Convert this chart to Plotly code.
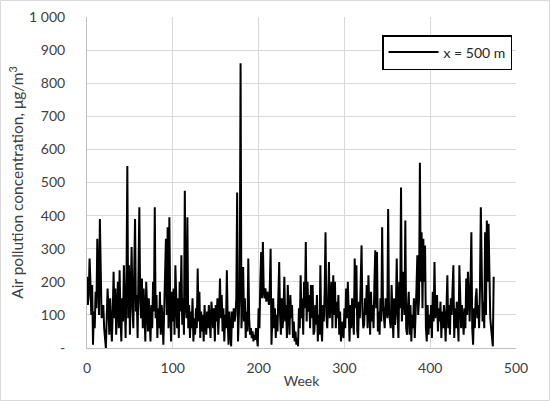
import plotly.graph_objects as go

# Weekly air pollution concentration (µg/m³) at x = 500 m
conc_000_049 = [215, 130, 160, 270, 200, 100, 190, 10, 110, 60, 170, 120, 330, 220, 100, 390, 180, 90, 110, 130, 60, 20, 0, 90, 180,
                120, 40, 150, 70, 20, 110, 230, 90, 180, 40, 130, 200, 60, 235, 100, 20, 150, 80, 250, 160, 30, 200, 550, 90, 250]
conc_050_099 = [40, 180, 305, 120, 60, 230, 390, 110, 160, 30, 200, 425, 140, 90, 210, 60, 180, 120, 20, 200, 100, 50, 150, 90, 20,
                130, 60, 200, 110, 425, 90, 160, 30, 120, 60, 170, 40, 130, 90, 10, 150, 260, 330, 100, 365, 60, 395, 120, 20, 170]
conc_100_149 = [80, 180, 40, 250, 120, 60, 150, 30, 200, 110, 280, 70, 150, 40, 475, 130, 90, 395, 60, 130, 30, 110, 60, 150, 20,
                90, 40, 120, 60, 240, 80, 170, 30, 110, 50, 100, 20, 130, 70, 40, 110, 60, 130, 90, 30, 140, 100, 60, 120, 20]
conc_150_199 = [130, 80, 150, 40, 110, 210, 90, 160, 50, 120, 20, 100, 60, 235, 80, 10, 110, 60, 5, 110, 60, 120, 80, 100, 150,
                470, 20, 100, 180, 860, 60, 120, 245, 80, 150, 30, 110, 50, 270, 90, 40, 60, 30, 50, 20, 40, 25, 60, 30, 5]
conc_200_249 = [120, 60, 200, 290, 150, 320, 170, 150, 180, 140, 170, 160, 130, 180, 300, 10, 90, 150, 60, 120, 30, 100, 50, 130, 260,
                100, 40, 150, 60, 110, 215, 80, 130, 30, 190, 100, 40, 160, 90, 130, 30, 80, 20, 50, 10, 30, 5, 120, 60, 220]
conc_250_299 = [90, 150, 40, 200, 120, 320, 80, 200, 110, 160, 60, 190, 90, 190, 40, 50, 130, 70, 160, 20, 100, 40, 250, 60, 20,
                130, 80, 170, 350, 100, 60, 130, 260, 90, 150, 200, 60, 220, 100, 200, 60, 140, 90, 160, 40, 110, 20, 80, 50, 30]
conc_300_349 = [120, 60, 180, 90, 200, 100, 20, 130, 60, 150, 90, 40, 270, 120, 250, 50, 30, 140, 90, 180, 310, 110, 60, 70, 150,
                100, 190, 60, 220, 120, 40, 170, 80, 130, 60, 200, 295, 120, 290, 50, 110, 40, 150, 80, 365, 130, 100, 60, 150, 130]
conc_350_399 = [90, 420, 110, 90, 60, 190, 100, 30, 150, 70, 120, 270, 100, 30, 200, 120, 485, 80, 160, 230, 100, 385, 60, 40, 120,
                170, 40, 130, 20, 100, 60, 150, 30, 90, 180, 280, 100, 150, 560, 200, 350, 120, 330, 200, 310, 60, 20, 130, 40, 100]
conc_400_449 = [60, 130, 30, 170, 80, 260, 90, 130, 160, 50, 120, 80, 140, 30, 110, 60, 130, 90, 20, 120, 220, 60, 130, 40, 150,
                100, 170, 250, 30, 120, 60, 140, 90, 20, 250, 110, 60, 130, 90, 40, 120, 60, 210, 100, 230, 150, 80, 200, 350, 60]
conc_450_474 = [10, 120, 60, 150, 180, 90, 130, 60, 180, 425, 120, 80, 140, 60, 350, 100, 385, 200, 375, 130, 90, 60, 20, 5, 215]

concentration = (conc_000_049 + conc_050_099 + conc_100_149 + conc_150_199 + conc_200_249
                 + conc_250_299 + conc_300_349 + conc_350_399 + conc_400_449 + conc_450_474)
weeks = list(range(len(concentration)))

series_name = "x = 500 m"
y_tick_vals = [0, 100, 200, 300, 400, 500, 600, 700, 800, 900, 1000]
y_tick_text = ["-", "100", "200", "300", "400", "500", "600", "700", "800", "900", "1 000"]
x_tick_vals = [0, 100, 200, 300, 400, 500]

FONT = "Lato"
GRID = "#d9d9d9"
TXT = "#404040"

fig = go.Figure()
fig.add_trace(go.Scatter(
    x=weeks, y=concentration, mode="lines", name=series_name,
    line=dict(color="black", width=2),
))

L, R, T, B = 87, 34, 17, 53
W, H = 550, 401
pw, ph = W - L - R, H - T - B

fig.update_layout(
    width=W, height=H,
    margin=dict(l=L, r=R, t=T, b=B, autoexpand=False),
    paper_bgcolor="white", plot_bgcolor="white",
    font=dict(family=FONT, size=14, color=TXT),
    showlegend=True,
    legend=dict(
        x=(512 - L) / pw, y=1 - (35 - T) / ph, xanchor="right", yanchor="top",
        bgcolor="white", bordercolor="black", borderwidth=1.5,
        itemwidth=50,
        font=dict(family=FONT, size=14, color="#262626"),
    ),
    xaxis=dict(
        range=[0, 500], tickvals=x_tick_vals, automargin=False,
        showgrid=True, gridcolor=GRID, gridwidth=1,
        showline=True, linecolor="#bfbfbf", linewidth=1,
        zeroline=False, ticks="", ticklabelstandoff=7,
        title=dict(text="Week", standoff=1, font=dict(family=FONT, size=14, color=TXT)),
        tickfont=dict(family=FONT, size=14, color=TXT),
    ),
    yaxis=dict(
        range=[0, 1000], tickvals=y_tick_vals, ticktext=y_tick_text, automargin=False,
        showgrid=True, gridcolor=GRID, gridwidth=1,
        showline=True, linecolor="#bfbfbf", linewidth=1,
        zeroline=False, ticks="", ticklabelstandoff=18,
        title=dict(text="Air pollution concentration, μg/m<sup>3</sup>", standoff=1,
                   font=dict(family=FONT, size=15.5, color=TXT)),
        tickfont=dict(family=FONT, size=14, color=TXT),
    ),
    shapes=[dict(
        type="rect", xref="paper", yref="paper", layer="below",
        x0=(0.5 - L) / pw, x1=(W - 0.5 - L) / pw,
        y0=-(H - 0.5 - T - ph) / ph, y1=1 + (T - 0.5) / ph,
        line=dict(color="#d9d9d9", width=1), fillcolor="rgba(0,0,0,0)",
    )],
)

fig.write_html("out.html", config={"displayModeBar": False},
               post_script="document.body.style.margin='0';")
